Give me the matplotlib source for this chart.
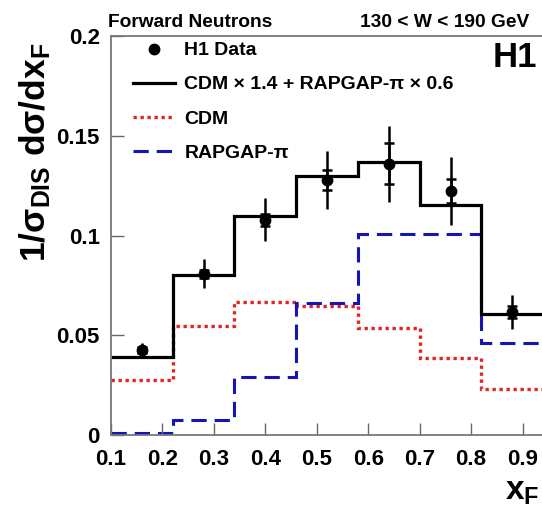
import matplotlib
matplotlib.use("Agg")
import matplotlib.pyplot as plt
from matplotlib.lines import Line2D

# ---- data ----
bin_edges = [0.10, 0.22, 0.34, 0.46, 0.58, 0.70, 0.82, 0.94]
cdm = [0.0275, 0.0545, 0.0665, 0.0645, 0.0537, 0.0387, 0.0233]
rapgap = [0.001, 0.0075, 0.029, 0.066, 0.101, 0.1008, 0.046]
combined = [0.039, 0.080, 0.110, 0.130, 0.137, 0.1155, 0.0608]
data_x = [0.16, 0.28, 0.40, 0.52, 0.64, 0.76, 0.88]
data_y = [0.0425, 0.0808, 0.108, 0.128, 0.136, 0.1225, 0.0617]
err_stat = [0.0015, 0.002, 0.003, 0.005, 0.0103, 0.006, 0.003]
err_tot = [0.0035, 0.0073, 0.011, 0.0145, 0.019, 0.017, 0.0087]
xticks = [0.1, 0.2, 0.3, 0.4, 0.5, 0.6, 0.7, 0.8, 0.9]
xticklabels = ["0.1", "0.2", "0.3", "0.4", "0.5", "0.6", "0.7", "0.8", "0.9"]
yticks = [0, 0.05, 0.1, 0.15, 0.2]
yticklabels = ["0", "0.05", "0.1", "0.15", "0.2"]

plt.rcParams['font.family'] = ['Liberation Sans', 'DejaVu Sans']
plt.rcParams['font.weight'] = 'bold'
plt.rcParams['mathtext.fontset'] = 'custom'
plt.rcParams['mathtext.rm'] = 'Liberation Sans:bold'
plt.rcParams['mathtext.it'] = 'Liberation Sans:bold'
plt.rcParams['mathtext.bf'] = 'Liberation Sans:bold'
plt.rcParams['mathtext.default'] = 'rm'

W, H = 542, 507
fig = plt.figure(figsize=(W / 100, H / 100), dpi=100)
ax_l, ax_r, ax_b, ax_t = 111, 574, 435, 36
ax = fig.add_axes([ax_l / W, 1 - ax_b / H, (ax_r - ax_l) / W, (ax_b - ax_t) / H])

red = '#e02525'
blue = '#1515b5'
dot_ls = (0, (1, 1.1))
dash_ls = (0, (5, 2.6))

ax.stairs(cdm, bin_edges, baseline=None, color=red, lw=2.4, linestyle=dot_ls)
ax.stairs(rapgap, bin_edges, baseline=None, color=blue, lw=2.2, linestyle=dash_ls)
ax.stairs(combined, bin_edges, baseline=None, color='black', lw=2.3)

eb = ax.errorbar(data_x, data_y, yerr=err_tot, fmt='o', color='black', ms=7.5,
                 elinewidth=1.8, capsize=0, zorder=5)
ax.errorbar(data_x, data_y, yerr=err_stat, fmt='none', ecolor='black',
            elinewidth=1.8, capsize=3.5, capthick=1.8, zorder=5)

ax.set_xlim(0.1, 1.0)
ax.set_ylim(0, 0.2)
ax.set_xticks(xticks)
ax.set_xticklabels(xticklabels)
ax.set_yticks(yticks)
ax.set_yticklabels(yticklabels)
ax.tick_params(axis='both', direction='in', length=9, width=1.0, color='#666666',
               labelsize=16, pad=8)
ax.tick_params(axis='x', pad=10)
ax.tick_params(top=False, right=False)
for s in ax.spines.values():
    s.set_color('#777777')
    s.set_linewidth(1.3)

h_comb = Line2D([], [], color='black', lw=2.3)
h_cdm = Line2D([], [], color=red, lw=2.4, linestyle=dot_ls)
h_rap = Line2D([], [], color=blue, lw=2.2, linestyle=dash_ls)
ax.legend(handles=[eb[0], h_comb, h_cdm, h_rap],
          labels=['H1 Data', 'CDM × 1.4 + RAPGAP-π × 0.6', 'CDM', 'RAPGAP-π'],
          loc='upper left', bbox_to_anchor=(0.041, 0.993), frameon=False,
          fontsize=14, handlelength=2.15, handletextpad=0.5,
          labelspacing=0.85, borderpad=0.15, borderaxespad=0)

fig.text(108 / W, 1 - 27 / H, 'Forward Neutrons', fontsize=13.8, ha='left',
         va='baseline', fontweight='bold')
fig.text(529 / W, 1 - 27 / H, '130 < W < 190 GeV', fontsize=13.8, ha='right',
         va='baseline', fontweight='bold')
fig.text(537 / W, 1 - 67 / H, 'H1', fontsize=25, ha='right', va='baseline',
         fontweight='bold')
fig.text(35 / W, 1 - 42 / H, '1/σ$_{DIS}$ dσ/dx$_F$', fontsize=25.5, rotation=90,
         ha='center', va='top', fontweight='bold')
fig.text(522 / W, 1 - 492 / H, 'x$_F$', fontsize=24, ha='center', va='center',
         fontweight='bold')

fig.savefig('out.png', dpi=100)
